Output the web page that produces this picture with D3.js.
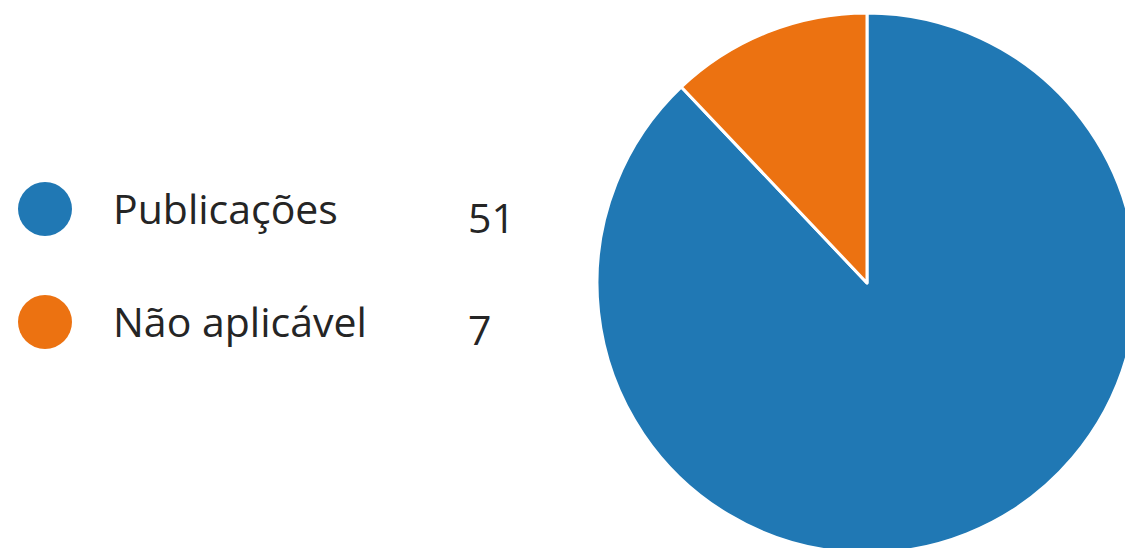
<!DOCTYPE html>
<html><head><meta charset="utf-8">
<script src="https://cdn.jsdelivr.net/npm/d3@7"></script>
<style>html,body{margin:0;padding:0;background:#fff;overflow:hidden}</style>
</head><body><svg id="c" width="1125" height="548"></svg>
<script>
const categories = ["Publicações", "Não aplicável"];
const values = [51, 7];
const colors = ["#2078b4", "#ec7211"];

const svg = d3.select("#c");
const cx = 867, cy = 283, r = 270;

const arcs = d3.pie().sort(null).startAngle(0).endAngle(2*Math.PI)(values);
const arc = d3.arc().innerRadius(0).outerRadius(r);
svg.append("g").attr("transform", `translate(${cx},${cy})`)
  .selectAll("path").data(arcs).join("path")
  .attr("d", arc)
  .attr("fill", (d,i) => colors[i])
  .attr("stroke", "#fff").attr("stroke-width", 3).attr("stroke-linejoin","round");

const y = d3.scalePoint().domain(categories).range([209, 322]);
const lg = svg.append("g");
const rows = lg.selectAll("g").data(categories).join("g")
  .attr("transform", d => `translate(0,${y(d)})`);
rows.append("circle").attr("cx", 45).attr("cy", 0).attr("r", 27)
  .attr("fill", (d,i) => colors[i]);
rows.append("text").attr("x", 113).attr("y", 15)
  .attr("font-family", "'Open Sans', sans-serif").attr("font-size", 41)
  .attr("fill", "#252525").text(d => d);
rows.append("text").attr("x", 468).attr("y", (d,i)=> i===0?24:23)
  .attr("font-family", "'Open Sans', sans-serif").attr("font-size", 41)
  .attr("fill", "#252525").text((d,i) => values[i]);
</script></body></html>
